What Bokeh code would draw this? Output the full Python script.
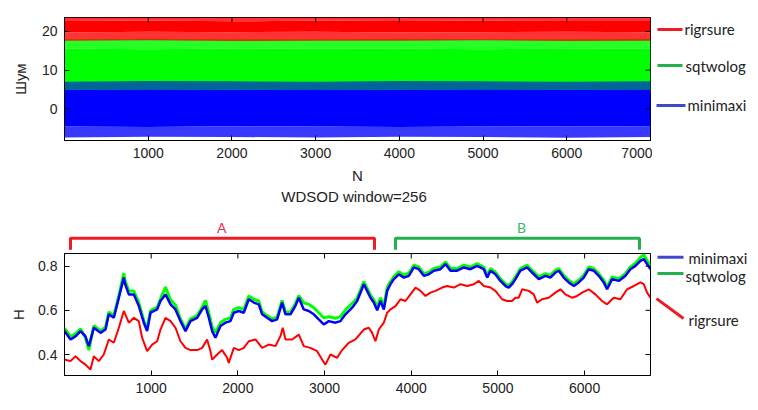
import math
from bokeh.plotting import figure
from bokeh.models import Range1d, FixedTicker
from bokeh.layouts import column, row
from bokeh.embed import file_html
from bokeh.resources import INLINE
from bokeh.core.properties import value

# ---------------- data ----------------
series_names = ["rigrsure", "sqtwolog", "minimaxi"]

# top panel: envelopes of the noise traces
noise_n = [0, 1000, 2000, 3000, 4000, 5000, 6000, 7000]
red_core_lo = [19.7, 19.9, 19.8, 19.9, 19.7, 19.8, 19.9, 19.8]
red_core_hi = [22.7, 22.8, 22.6, 22.8, 22.7, 22.8, 22.7, 22.7]
red_fuzz_lo = [17.6, 17.7, 17.5, 17.6, 17.6, 17.7, 17.5, 17.6]
red_fuzz_hi = [23.6, 23.6, 23.6, 23.6, 23.6, 23.6, 23.6, 23.6]
green_core_lo = [4.0, 4.0, 4.0, 4.0, 4.0, 4.0, 4.0, 4.0]
green_core_hi = [15.6, 15.4, 15.6, 15.5, 15.6, 15.4, 15.5, 15.6]
green_fuzz_hi = [18.0, 18.1, 18.0, 18.0, 18.1, 18.0, 18.0, 18.1]
blue_core_lo = [-4.6, -4.7, -4.5, -4.6, -4.7, -4.6, -4.5, -4.6]
blue_core_hi = [4.9, 5.0, 4.9, 5.0, 4.9, 5.0, 4.9, 5.0]
blue_fuzz_lo = [-7.4, -7.2, -7.3, -7.4, -7.2, -7.3, -7.5, -7.3]
blue_fuzz_hi = [7.0, 7.2, 7.1, 7.0, 7.2, 7.1, 7.0, 7.1]

top_xticks = [1000, 2000, 3000, 4000, 5000, 6000, 7000]
top_yticks = [0, 10, 20]
bot_xticks = [1000, 2000, 3000, 4000, 5000, 6000]
bot_yticks = [0.4, 0.6, 0.8]

# bottom panel: H(N) for the three thresholds
blue_pts = [(0,0.506),(70,0.468),(130,0.483),(185,0.506),(240,0.483),(281,0.438),(338,0.521),(415,0.498),
            (473,0.513),(511,0.582),(569,0.566),(627,0.657),(684,0.748),(700,0.718),(742,0.672),(800,0.672),
            (857,0.62),(915,0.544),(953,0.506),(992,0.589),(1069,0.604),(1107,0.642),(1165,0.672),(1223,0.627),
            (1280,0.604),(1338,0.551),(1396,0.506),(1453,0.551),(1530,0.566),(1588,0.604),(1626,0.62),(1665,0.567),
            (1703,0.506),(1741,0.476),(1799,0.529),(1857,0.544),(1914,0.551),(1953,0.589),(2011,0.597),(2068,0.589),
            (2126,0.65),(2184,0.635),(2241,0.627),(2280,0.582),(2337,0.566),(2395,0.551),(2453,0.559),(2510,0.635),
            (2549,0.582),(2607,0.582),(2664,0.62),(2703,0.657),(2760,0.604),(2818,0.597),(2876,0.582),(2933,0.559),
            (2991,0.536),(3049,0.551),(3126,0.544),(3183,0.551),(3241,0.582),(3318,0.612),(3376,0.642),(3453,0.718),
            (3491,0.688),(3530,0.657),(3568,0.635),(3607,0.60),(3645,0.642),(3684,0.604),(3722,0.688),(3760,0.718),
            (3799,0.741),(3857,0.763),(3914,0.748),(3972,0.756),(4030,0.794),(4087,0.786),(4145,0.756),(4203,0.763),
            (4260,0.779),(4337,0.786),(4395,0.809),(4453,0.779),(4529,0.779),(4606,0.794),(4683,0.786),(4760,0.801),
            (4837,0.786),(4876,0.748),(4914,0.779),(4971,0.763),(5029,0.733),(5086,0.71),(5125,0.703),(5163,0.718),
            (5202,0.741),(5259,0.779),(5336,0.794),(5394,0.771),(5471,0.741),(5548,0.756),(5605,0.748),(5663,0.771),
            (5702,0.779),(5759,0.748),(5817,0.726),(5875,0.71),(5932,0.726),(5990,0.748),(6048,0.786),(6105,0.779),
            (6163,0.756),(6221,0.726),(6259,0.695),(6317,0.741),(6394,0.733),(6471,0.756),(6528,0.786),(6586,0.801),
            (6644,0.824),(6682,0.832),(6721,0.809),(6760,0.786)]

green_pts = [(0,0.52),(70,0.48),(130,0.495),(185,0.516),(240,0.478),(281,0.42),(338,0.53),(415,0.508),
             (473,0.523),(511,0.592),(569,0.576),(627,0.667),(684,0.768),(700,0.733),(742,0.687),(800,0.687),
             (857,0.635),(915,0.554),(953,0.516),(992,0.599),(1069,0.614),(1107,0.652),(1165,0.705),(1223,0.647),
             (1280,0.624),(1338,0.561),(1396,0.516),(1453,0.561),(1530,0.576),(1588,0.614),(1626,0.645),(1665,0.587),
             (1703,0.526),(1741,0.499),(1799,0.544),(1857,0.559),(1914,0.566),(1953,0.604),(2011,0.612),(2068,0.604),
             (2126,0.665),(2184,0.65),(2241,0.642),(2280,0.592),(2337,0.576),(2395,0.561),(2453,0.569),(2510,0.645),
             (2549,0.592),(2607,0.592),(2664,0.63),(2703,0.667),(2760,0.634),(2818,0.627),(2876,0.612),(2933,0.589),
             (2991,0.566),(3049,0.571),(3126,0.564),(3183,0.571),(3241,0.602),(3318,0.632),(3376,0.654),(3453,0.73),
             (3491,0.70),(3530,0.669),(3568,0.647),(3607,0.615),(3645,0.657),(3684,0.619),(3722,0.703),(3760,0.73),
             (3799,0.753),(3857,0.775),(3914,0.76),(3972,0.768),(4030,0.804),(4087,0.796),(4145,0.766),(4203,0.773),
             (4260,0.789),(4337,0.796),(4395,0.819),(4453,0.789),(4529,0.789),(4606,0.804),(4683,0.796),(4760,0.811),
             (4837,0.796),(4876,0.758),(4914,0.789),(4971,0.773),(5029,0.743),(5086,0.72),(5125,0.713),(5163,0.728),
             (5202,0.751),(5259,0.789),(5336,0.804),(5394,0.781),(5471,0.751),(5548,0.766),(5605,0.758),(5663,0.781),
             (5702,0.789),(5759,0.758),(5817,0.736),(5875,0.72),(5932,0.736),(5990,0.758),(6048,0.796),(6105,0.789),
             (6163,0.766),(6221,0.736),(6259,0.705),(6317,0.751),(6394,0.743),(6471,0.766),(6528,0.796),(6586,0.813),
             (6644,0.839),(6682,0.852),(6721,0.824),(6760,0.80)]

red_pts = [(0,0.377),(69,0.37),(127,0.392),(185,0.37),(242,0.354),(300,0.332),(338,0.392),(396,0.37),
           (453,0.40),(511,0.468),(569,0.453),(627,0.521),(684,0.597),(742,0.544),(800,0.566),(857,0.551),
           (895,0.476),(953,0.415),(1011,0.445),(1069,0.46),(1107,0.513),(1165,0.566),(1223,0.551),(1280,0.521),
           (1338,0.46),(1396,0.43),(1453,0.42),(1530,0.42),(1588,0.43),(1645,0.468),(1684,0.415),(1703,0.377),
           (1761,0.40),(1818,0.42),(1876,0.385),(1895,0.362),(1953,0.43),(2011,0.42),(2068,0.43),(2126,0.46),
           (2203,0.468),(2280,0.43),(2357,0.445),(2434,0.438),(2491,0.483),(2518,0.521),(2549,0.468),(2626,0.468),
           (2703,0.49),(2760,0.438),(2837,0.43),(2914,0.415),(2972,0.377),(3010,0.354),(3068,0.40),(3145,0.385),
           (3202,0.42),(3279,0.453),(3356,0.468),(3453,0.513),(3510,0.521),(3549,0.498),(3587,0.46),(3626,0.513),
           (3684,0.544),(3722,0.589),(3760,0.604),(3818,0.619),(3876,0.65),(3933,0.642),(3991,0.672),(4049,0.703),
           (4107,0.688),(4164,0.665),(4222,0.68),(4280,0.688),(4356,0.703),(4414,0.71),(4491,0.703),(4568,0.718),
           (4645,0.71),(4722,0.718),(4779,0.733),(4837,0.71),(4914,0.703),(4971,0.688),(5048,0.65),(5106,0.642),
           (5163,0.642),(5202,0.657),(5240,0.657),(5279,0.695),(5356,0.688),(5413,0.672),(5452,0.635),(5509,0.65),
           (5586,0.657),(5663,0.68),(5721,0.695),(5778,0.672),(5855,0.657),(5913,0.665),(5971,0.68),(6048,0.695),
           (6124,0.672),(6201,0.642),(6259,0.627),(6336,0.657),(6413,0.65),(6490,0.695),(6567,0.71),(6644,0.726),
           (6682,0.718),(6721,0.68),(6760,0.657)]

bracket_labels = ["A", "B"]
bracket_start = [69, 3818]
bracket_end = [3576, 6633]

# ---------------- styling ----------------
RED, GREEN, BLUE = "#FF0000", "#00FF00", "#0000FF"
LEG_COLORS = ["#ED1C24", "#22B14C", "#3F48CC"]
TXT = "#222222"
TICK_FONT = "Liberation Sans"
LEG_FONT = "Lato"

F1_X = (0, 7000)
F1_Y = (-8.2, 23.6)
F2_X = (0, 6760)
F2_Y = (0.305, 0.857)
F2_FRAME_H = 122
FB_H = 64

def style_main_axis(ax, ticks):
    ax.ticker = FixedTicker(ticks=ticks)
    ax.major_label_text_font = TICK_FONT
    ax.major_label_text_font_size = "14px"
    ax.major_label_text_color = TXT
    ax.major_tick_in = 5
    ax.major_tick_out = 0
    ax.minor_tick_in = 0
    ax.minor_tick_out = 0
    ax.axis_line_color = "black"
    ax.major_tick_line_color = "black"
    ax.major_label_standoff = 7
    ax.axis_label_text_font = TICK_FONT
    ax.axis_label_text_font_size = "15px"
    ax.axis_label_text_font_style = "normal"
    ax.axis_label_text_color = TXT

def base_fig(**kw):
    f = figure(output_backend="svg", toolbar_location=None, **kw)
    f.grid.visible = False
    f.outline_line_color = "black"
    f.outline_line_alpha = 1.0
    f.outline_line_width = 1
    return f

def blank_fig(**kw):
    f = figure(output_backend="svg", toolbar_location=None,
               x_axis_location=None, y_axis_location=None, **kw)
    f.grid.visible = False
    f.outline_line_color = None
    return f

def inner_ticks(f, xticks, yticks, xr, yr):
    # MATLAB-style box: ticks also on the top and right edges, pointing inwards
    f.ray(x=xticks, y=[yr[1]] * len(xticks), length=5, length_units="screen",
          angle=-math.pi / 2, line_color="black", line_width=1)
    f.ray(x=[xr[1]] * len(yticks), y=yticks, length=5, length_units="screen",
          angle=math.pi, line_color="black", line_width=1)

# ---------------- top panel ----------------
f1 = base_fig(width=652, height=188, x_range=Range1d(*F1_X), y_range=Range1d(*F1_Y),
              min_border_left=64, min_border_right=2, min_border_top=17, min_border_bottom=48)
style_main_axis(f1.xaxis[0], top_xticks)
style_main_axis(f1.yaxis[0], top_yticks)
f1.xaxis.axis_label = "N"
f1.xaxis.axis_label_standoff = 6
f1.yaxis.axis_label = "Шум"
f1.yaxis.axis_label_standoff = 10

f1.varea(x=noise_n, y1=green_core_lo, y2=green_core_hi, fill_color=GREEN)
f1.varea(x=noise_n, y1=green_core_hi, y2=green_fuzz_hi, fill_color=GREEN, fill_alpha=0.85)
f1.varea(x=noise_n, y1=blue_fuzz_lo, y2=blue_core_lo, fill_color=BLUE, fill_alpha=0.78)
f1.varea(x=noise_n, y1=blue_core_lo, y2=blue_core_hi, fill_color=BLUE)
f1.varea(x=noise_n, y1=blue_core_hi, y2=blue_fuzz_hi, fill_color=BLUE, fill_alpha=0.6)
f1.varea(x=noise_n, y1=red_fuzz_lo, y2=red_core_lo, fill_color=RED, fill_alpha=0.8)
f1.varea(x=noise_n, y1=red_core_lo, y2=red_core_hi, fill_color=RED)
f1.varea(x=noise_n, y1=red_core_hi, y2=red_fuzz_hi, fill_color=RED, fill_alpha=0.8)
inner_ticks(f1, top_xticks, top_yticks, F1_X, F1_Y)

leg1 = blank_fig(width=104, height=188, x_range=Range1d(0, 104), y_range=f1.y_range,
                 min_border_left=0, min_border_right=0, min_border_top=17, min_border_bottom=48)
leg1_y = [20.5, 11.19, 0.85]
leg1.segment(x0=[5, 5, 4], y0=leg1_y, x1=[30, 30, 33], y1=leg1_y, line_color=LEG_COLORS, line_width=3)
leg1.text(x=[32, 33, 35], y=leg1_y, text=series_names, text_baseline="middle",
          text_font=value(LEG_FONT), text_font_size="15px", text_color=TXT)

# ---------------- title + brackets ----------------
fb = blank_fig(width=652, height=FB_H, x_range=Range1d(*F2_X), y_range=Range1d(0, FB_H),
               min_border_left=64, min_border_right=2, min_border_top=0, min_border_bottom=0)
fb.text(x=[3340], y=[56], text=["WDSOD window=256"], text_align="center", text_baseline="alphabetic",
        text_font=value(TICK_FONT), text_font_size="15px", text_color=TXT)
fb.multi_line(xs=[[bracket_start[0], bracket_start[0], bracket_end[0], bracket_end[0]]],
              ys=[[2.7, 14.3, 14.3, 2.7]], line_color=LEG_COLORS[0], line_width=3)
fb.multi_line(xs=[[bracket_start[1], bracket_start[1], bracket_end[1], bracket_end[1]]],
              ys=[[2.7, 14.3, 14.3, 2.7]], line_color=LEG_COLORS[1], line_width=3)
fb.text(x=[(bracket_start[0] + bracket_end[0]) / 2 - 10, (bracket_start[1] + bracket_end[1]) / 2 + 47],
        y=[25, 25], text=bracket_labels, text_align="center", text_baseline="middle",
        text_font=value(LEG_FONT), text_font_size="14px", text_color=["#EE3355", "#33BB66"])

# ---------------- bottom panel ----------------
f2 = base_fig(width=652, height=156, x_range=fb.x_range, y_range=Range1d(*F2_Y),
              min_border_left=64, min_border_right=2, min_border_top=1, min_border_bottom=33)
style_main_axis(f2.xaxis[0], bot_xticks)
style_main_axis(f2.yaxis[0], bot_yticks)
f2.yaxis.axis_label = "H"
f2.yaxis.axis_label_standoff = 8

gx, gy = zip(*green_pts)
bx, by = zip(*blue_pts)
rx, ry = zip(*red_pts)
f2.line(list(gx), list(gy), line_color=GREEN, line_width=3)
f2.line(list(bx), list(by), line_color=BLUE, line_width=2.5)
f2.line(list(rx), list(ry), line_color=RED, line_width=2)
inner_ticks(f2, bot_xticks, bot_yticks, F2_X, F2_Y)

# legend column for the bottom panel: same vertical scale as f2, frame reaching up to the top of fb
above_px = FB_H + 1
leg2_top = F2_Y[1] + above_px * (F2_Y[1] - F2_Y[0]) / F2_FRAME_H
leg2 = blank_fig(width=104, height=FB_H + 156, x_range=Range1d(0, 104), y_range=Range1d(F2_Y[0], leg2_top),
                 min_border_left=0, min_border_right=0, min_border_top=0, min_border_bottom=33)
leg2.segment(x0=[5, 5, 4], y0=[0.840, 0.7665, 0.653], x1=[31, 31, 31], y1=[0.840, 0.7665, 0.563],
             line_color=[LEG_COLORS[2], LEG_COLORS[1], LEG_COLORS[0]], line_width=3)
leg2.text(x=[36, 33, 36], y=[0.837, 0.757, 0.554], text=[series_names[2], series_names[1], series_names[0]],
          text_baseline="middle", text_font=value(LEG_FONT), text_font_size="15px", text_color=TXT)

layout = row(column(f1, fb, f2), column(leg1, leg2))
open("out.html", "w").write(file_html(layout, INLINE))
